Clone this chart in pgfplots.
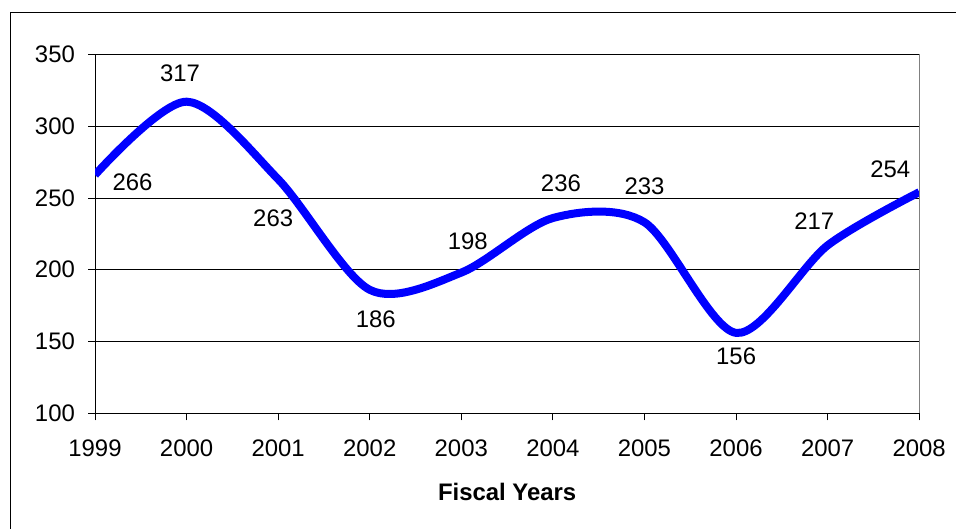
\documentclass[border=0pt]{standalone}
\usepackage{pgfplots}
\pgfplotsset{compat=1.18}
\usepackage{pgfplotstable}
\usepackage{fontspec}
\setmainfont{Liberation Sans}

% year, value, label offset (bp)
\pgfplotstableread{
year value dx dy
1999 266 37.5 -7
2000 317 -6.6 28.8
2001 263 -5 -39.5
2002 186 6 -29
2003 198 6.5 31.5
2004 236 8 34.7
2005 233 0 36.5
2006 156 0 -23.7
2007 217 -13.5 24
2008 254 -29 22.5
}\fiscaldata

\begin{document}
\begin{tikzpicture}[font=\fontsize{24}{28}\selectfont]
  \useasboundingbox (0,0) rectangle (956bp,-529bp);
  \fill[white] (0,0) rectangle (956bp,-529bp);
  \draw[black, line width=1bp] (10.5bp,-529bp) -- (10.5bp,-12bp) -- (956bp,-12bp);
  \begin{axis}[
    at={(95bp,-413.3bp)}, anchor=south west,
    scale only axis, width=824.3bp, height=359bp,
    xmin=1999, xmax=2008, ymin=100, ymax=350,
    xtick={1999,...,2008}, ytick={100,150,...,350},
    axis x line*=bottom, axis y line*=left,
    axis line style={black, line width=1bp, -},
    tick align=outside, major tick length=7bp,
    tick style={black, line width=0.8bp},
    ymajorgrids, grid style={black, line width=0.8bp},
    /pgf/number format/1000 sep={},
    /pgf/number format/assume math mode=true,
    xticklabel style={anchor=north, inner sep=0pt, yshift=-19.7bp},
    yticklabel style={anchor=east, inner sep=0pt, xshift=-13bp},
    xlabel={\textbf{Fiscal Years}},
    xlabel style={at={(rel axis cs:0.5,0)}, anchor=north, inner sep=0pt, yshift=-69.7bp},
    after end axis/.code={\draw[gray, line width=1bp] (rel axis cs:1,0) -- (rel axis cs:1,1);},
  ]
    \addplot[
      color=blue, line width=8bp, smooth, tension=0.5, line join=round,
      nodes near coords,
      visualization depends on={\thisrow{dx} \as \dx},
      visualization depends on={\thisrow{dy} \as \dy},
      nodes near coords style={anchor=center, inner sep=0pt, text=black,
        xshift=\dx bp, yshift=\dy bp},
    ] table[x=year, y=value] {\fiscaldata};
  \end{axis}
\end{tikzpicture}
\end{document}
